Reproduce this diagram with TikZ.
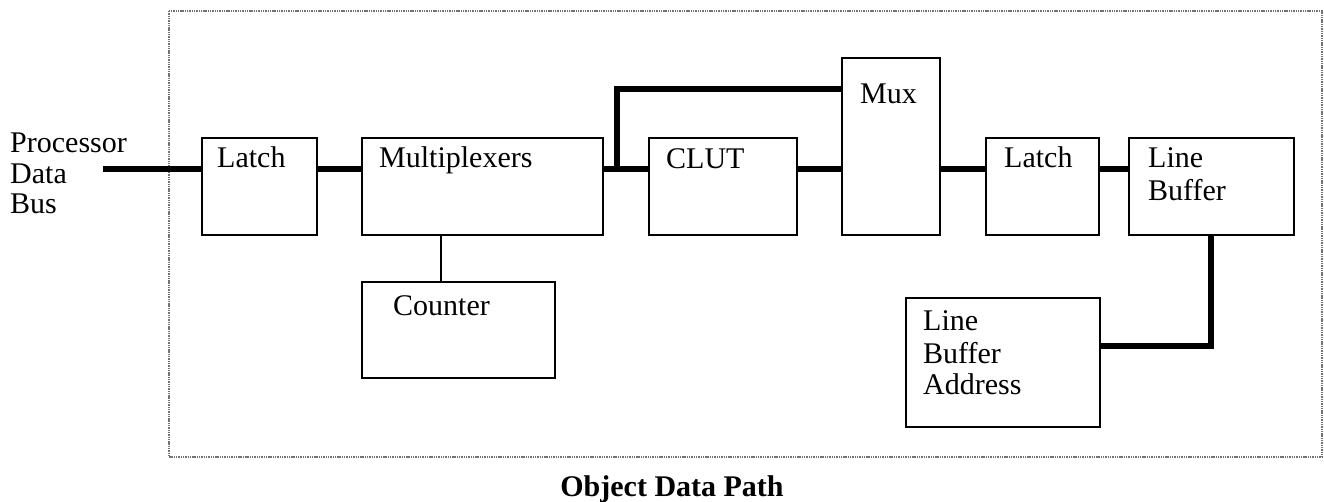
\documentclass[tikz,border=0pt]{standalone}
\usepackage{fontspec}
\setmainfont{Liberation Serif}
\begin{document}
\begin{tikzpicture}[x=1pt,y=-1pt,
  box/.style={draw, line width=1.7pt, inner sep=0pt, anchor=north west},
  bus/.style={line width=5.5pt},
  tap/.style={line width=1.9pt},
  frame/.style={draw=black!55, line width=1.6pt, dash pattern=on 1.4pt off 0.9pt},
  lbl/.style={anchor=base west, inner sep=0pt, font=\fontsize{30}{32}\selectfont},
  ttl/.style={anchor=base, inner sep=0pt, font=\fontsize{30}{32}\selectfont\bfseries}]
  \useasboundingbox (0,0) rectangle (1324,501);

  % dotted outline of the object data path
  \draw[frame] (169,11) rectangle (1322,457);

  % blocks
  \node[box, minimum width=115pt, minimum height=97pt] (latchA) at (201,137) {};
  \node[box, minimum width=241pt, minimum height=97pt] (mult)   at (361,137) {};
  \node[box, minimum width=148pt, minimum height=97pt] (clut)   at (648,137) {};
  \node[box, minimum width=98pt,  minimum height=177pt] (mux)   at (841,57)  {};
  \node[box, minimum width=113pt, minimum height=97pt] (latchB) at (985,137) {};
  \node[box, minimum width=165pt, minimum height=97pt] (lbuf)   at (1128,137) {};
  \node[box, minimum width=193pt, minimum height=96pt] (counter) at (361,281) {};
  \node[box, minimum width=194pt, minimum height=129pt] (lba)   at (905,297) {};

  % block labels
  \node[lbl] (tProc) at (10,152) {Processor};
  \node[lbl] (tData) at (10,183) {Data};
  \node[lbl] (tBus)  at (10,213) {Bus};
  \node[lbl] (tLatchA) at (217,167) {Latch};
  \node[lbl] (tMult)   at (379,167) {Multiplexers};
  \node[lbl] (tClut)   at (666,168) {CLUT};
  \node[lbl] (tMux)    at (860,103) {Mux};
  \node[lbl] (tLatchB) at (1004,167) {Latch};
  \node[lbl] (tLbuf1)  at (1148,167) {Line};
  \node[lbl] (tLbuf2)  at (1148,200) {Buffer};
  \node[lbl] (tCounter) at (393,315) {Counter};
  \node[lbl] (tLba1) at (923,330) {Line};
  \node[lbl] (tLba2) at (923,363) {Buffer};
  \node[lbl] (tLba3) at (923,394) {Address};

  % reference levels for the data bus
  \coordinate (busy) at (0,169);
  \coordinate (upy)  at (0,89);
  \coordinate (pin)  at (103,169);
  \coordinate (fork) at (617,169);
  \coordinate (cntx) at (441,0);
  \coordinate (lbx)  at (1211,0);
  \coordinate (lby)  at (0,346);

  % data bus
  \draw[bus] (pin) -- (latchA.west |- busy);
  \draw[bus] (latchA.east |- busy) -- (mult.west |- busy);
  \draw[bus] (mult.east |- busy) -- (clut.west |- busy);
  \draw[bus] (fork) |- (mux.west |- upy);
  \draw[bus] (clut.east |- busy) -- (mux.west |- busy);
  \draw[bus] (mux.east |- busy) -- (latchB.west |- busy);
  \draw[bus] (latchB.east |- busy) -- (lbuf.west |- busy);
  \draw[bus] (lbuf.south -| lbx) |- (lba.east |- lby);

  % counter link
  \draw[tap] (mult.south -| cntx) -- (counter.north -| cntx);

  % caption
  \node[ttl] (title) at (672,496) {Object Data Path};
\end{tikzpicture}
\end{document}
